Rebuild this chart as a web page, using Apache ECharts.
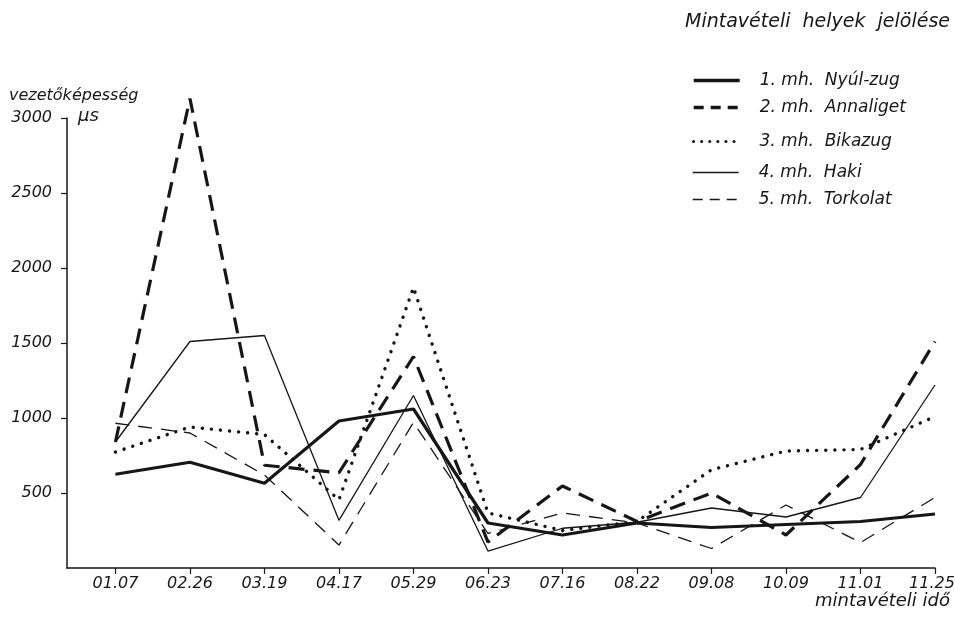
<!DOCTYPE html>
<html>
<head>
<meta charset="utf-8">
<script src="https://cdn.jsdelivr.net/npm/echarts@6/dist/echarts.min.js"></script>
<style>
html,body{margin:0;padding:0;background:#fff;}
#chart{width:955px;height:617px;}
</style>
</head>
<body>
<div id="chart"></div>
<script>
// ---- data ----
const categories = ['01.07','02.26','03.19','04.17','05.29','06.23','07.16','08.22','09.08','10.09','11.01','11.25'];
const yTicks = [500, 1000, 1500, 2000, 2500, 3000];
const seriesNames = ['1. mh.  Nyúl-zug', '2. mh.  Annaliget', '3. mh.  Bikazug', '4. mh.  Haki', '5. mh.  Torkolat'];
const nyulZug   = [625, 705, 565, 980, 1060, 300, 220, 300, 270, 290, 310, 360];
const annaliget = [840, 3130, 685, 635, 1410, 173, 547, 310, 500, 220, 690, 1510];
const bikazug   = [773, 940, 890, 455, 1870, 367, 250, 310, 655, 780, 790, 1010];
const haki      = [840, 1510, 1550, 318, 1150, 113, 265, 305, 400, 340, 470, 1220];
const torkolat  = [965, 900, 620, 153, 970, 230, 367, 300, 130, 420, 170, 470];

const FONT = '"DejaVu Sans", "Liberation Sans", sans-serif';
const INK = '#161616';

const chart = echarts.init(document.getElementById('chart'), null, {renderer: 'canvas'});

function pts(arr){ return arr.map((v,i)=>[i, v]); }

const styles = [
  {width: 3.2, type: 'solid'},
  {width: 3.2, type: [16, 9]},
  {width: 3.4, type: [0.1, 9], cap: 'round'},
  {width: 1.3, type: 'solid'},
  {width: 1.3, type: [14, 9]}
];
const legendStyles = [
  {width: 3.4, type: 'solid'},
  {width: 3.4, type: [10, 7]},
  {width: 3, type: [0.1, 8], cap: 'round'},
  {width: 1.4, type: 'solid'},
  {width: 1.4, type: [10, 7]}
];
const dataSets = [nyulZug, annaliget, bikazug, haki, torkolat];
const legendCenters = [81, 108, 142, 173, 200];

const series = dataSets.map((d, k) => ({
  name: seriesNames[k],
  type: 'line',
  data: pts(d),
  symbol: 'none',
  clip: false,
  lineStyle: Object.assign({color: INK}, styles[k]),
  itemStyle: {color: INK},
  z: 5 - k
}));

const legends = seriesNames.map((n, k) => ({
  data: [n],
  left: 692,
  top: legendCenters[k] - 9,
  padding: 0,
  itemWidth: 46,
  itemHeight: 18,
  itemGap: 0,
  selectedMode: false,
  itemStyle: {opacity: 0},
  lineStyle: Object.assign({color: INK}, legendStyles[k]),
  textStyle: {fontFamily: FONT, fontStyle: 'italic', fontSize: 17, color: INK, padding: [0,0,0,15]}
}));

const lastIdx = categories.length - 1;

const option = {
  backgroundColor: '#ffffff',
  animation: false,
  grid: {left: 67, right: 20, top: 118, bottom: 49, containLabel: false, outerBoundsMode: 'none'},
  legend: legends,
  xAxis: {
    type: 'value',
    min: -0.65,
    max: 11,
    splitLine: {show: false},
    axisLine: {show: true, onZero: false, lineStyle: {color: INK, width: 1.5}},
    axisTick: {show: true, length: 6, lineStyle: {color: INK, width: 1.2},
               customValues: categories.map((c,i)=>i)},
    axisLabel: {
      customValues: categories.map((c,i)=>i),
      formatter: v => {
        const i = Math.round(v);
        const t = categories[i] || '';
        return i === lastIdx ? '{last|' + t + '}' : t;
      },
      rich: {last: {fontFamily: FONT, fontStyle: 'italic', fontSize: 16, color: INK, padding: [0, 6, 0, 0]}},
      fontFamily: FONT, fontStyle: 'italic', fontSize: 16, color: INK, margin: 8
    }
  },
  yAxis: {
    type: 'value',
    min: 0,
    max: 3000,
    interval: 500,
    splitLine: {show: false},
    axisLine: {show: true, onZero: false, lineStyle: {color: INK, width: 1.5}},
    axisTick: {show: true, length: 6, lineStyle: {color: INK, width: 1.2},
               customValues: yTicks},
    axisLabel: {
      customValues: yTicks,
      formatter: v => (v === 0 ? '' : String(v)),
      fontFamily: FONT, fontStyle: 'italic', fontSize: 16, color: INK, margin: 15
    }
  },
  graphic: [
    {type: 'text', left: 9, top: 88,
     style: {text: 'vezetőképesség', font: 'italic 16px ' + FONT, fill: INK}},
    {type: 'text', left: 78, top: 107,
     style: {text: 'μs', font: 'italic 18px ' + FONT, fill: INK}},
    {type: 'text', right: 5, top: 592,
     style: {text: 'mintavételi idő', font: 'italic 18px ' + FONT, fill: INK}},
    {type: 'text', right: 5, top: 13,
     style: {text: 'Mintavételi  helyek  jelölése', font: 'italic 19px ' + FONT, fill: INK}}
  ],
  series: series
};
chart.setOption(option);
</script>
</body>
</html>
